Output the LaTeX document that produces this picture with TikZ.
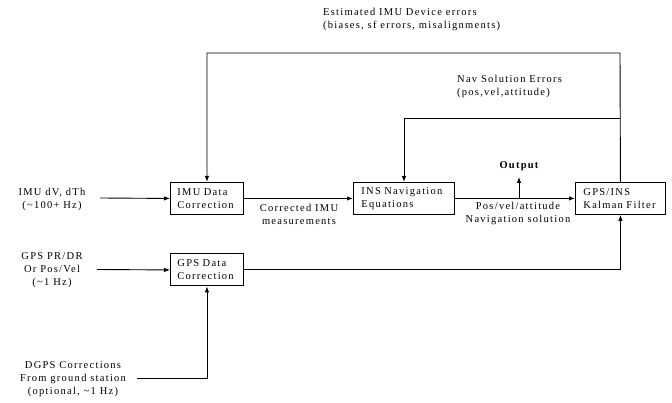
\documentclass[tikz,border=0pt]{standalone}
\usepackage{fontspec}
\setmainfont[LetterSpace=12]{Liberation Serif}
\usetikzlibrary{arrows.meta}
\begin{document}
\begin{tikzpicture}[x=1pt,y=-1pt,
  every node/.style={font=\fontsize{10.5}{13}\selectfont},
  blk/.style={draw,line width=0.9pt,rectangle,minimum height=32pt,align=left,inner ysep=2pt},
  lbl/.style={align=center,inner sep=0pt},
  conn/.style={line width=0.9pt},
  arr/.style={conn,-{Latex[length=6pt,width=4.5pt]}}]
\useasboundingbox (0,0) rectangle (672,403);
% blocks
\node[blk,anchor=north west,text width=59pt,inner xsep=7pt] (imu) at (170,182) {IMU Data\\Correction};
\node[blk,anchor=north west,text width=85pt,inner xsep=8pt] (ins) at (353,182) {INS Navigation\\Equations};
\node[blk,anchor=north west,text width=74pt,inner xsep=8pt] (kf) at (575,182) {GPS/INS\\Kalman Filter};
\node[blk,anchor=north west,text width=59pt,inner xsep=7pt] (gps) at (170,253.5) {GPS Data\\Correction};
% input labels
\node[lbl] (imuin) at (52,199) {IMU dV, dTh\\(\textasciitilde100+ Hz)};
\node[lbl] (gpsin) at (52,270) {GPS PR/DR\\Or Pos/Vel\\(\textasciitilde1 Hz)};
\node[lbl] (dgps) at (73,379.5) {DGPS Corrections\\From ground station\\(optional, \textasciitilde1 Hz)};
% connector labels
\node[lbl] (corr) at (299,214) {Corrected IMU\\measurements};
\node[lbl] (pvs) at (518,213.5) {Pos/vel/attitude\\Navigation solution};
\node[lbl,font=\fontsize{10.5}{13}\selectfont\bfseries] (outl) at (519,166) {Output};
\node[lbl,anchor=west,align=left] (est) at (323,19) {Estimated IMU Device errors\\(biases, sf errors, misalignments)};
\node[lbl,anchor=west,align=left] (nse) at (457,86.5) {Nav Solution Errors\\(pos,vel,attitude)};
% coordinates
\coordinate (imuinend) at (100,198);
\coordinate (gpsinend) at (97,269.5);
\coordinate (dgpsend) at (137,378);
\coordinate (outbase) at (519,198);
\coordinate (outtip) at (519,177);
\coordinate (fb1) at (620,53);
\coordinate (fb2) at (620,118);
% connectors
\draw[arr] (imuinend) -- (imu.west);
\draw[arr] (gpsinend) -- (gps.west);
\draw[arr] (dgpsend) -| (gps.south);
\draw[arr] (imu.east) -- (ins.west);
\draw[arr] (ins.east) -- (kf.west);
\draw[arr] (outbase) -- (outtip);
\draw[arr] (gps.east) -| (kf.south);
\draw[arr] (kf.north) -- (fb1) -| (imu.north);
\draw[arr] (fb2) -| (ins.north);
\end{tikzpicture}
\end{document}
